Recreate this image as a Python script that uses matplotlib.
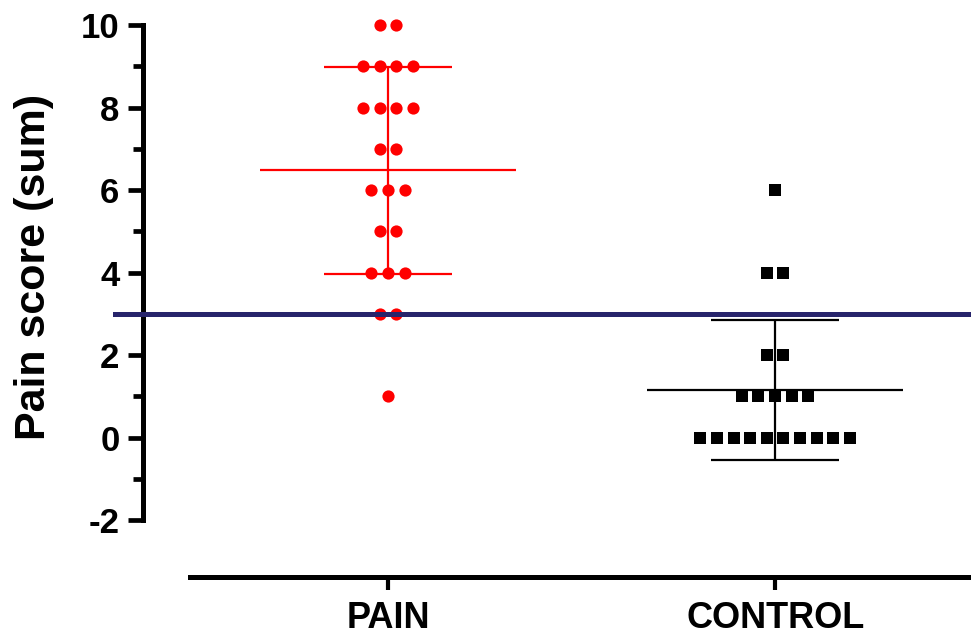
import numpy as np
import matplotlib.pyplot as plt
from matplotlib.ticker import FixedLocator

# Pain scores (value, count)
pain_values = [10, 9, 8, 7, 6, 5, 4, 3, 1]
pain_counts = [2, 4, 4, 2, 3, 2, 3, 2, 1]
control_values = [6, 4, 2, 1, 0]
control_counts = [1, 2, 2, 5, 10]
groups = ["PAIN", "CONTROL"]
cutoff = 3

plt.rcParams['font.family'] = ['Liberation Sans', 'DejaVu Sans']

fig = plt.figure(figsize=(9.71, 6.36), dpi=100)
ax = fig.add_axes([143 / 971, 59 / 636, 828 / 971, 552 / 636])


def swarm(values, counts, xpos, step=0.043):
    xs, ys = [], []
    for v, c in zip(values, counts):
        offs = (np.arange(c) - (c - 1) / 2) * step
        xs.extend(xpos + offs)
        ys.extend([v] * c)
    return np.array(xs), np.array(ys)


def mean_sd(ax, ys, xpos, color):
    m = ys.mean()
    sd = ys.std(ddof=1)
    ax.vlines(xpos, m - sd, m + sd, color=color, lw=1.6, zorder=2)
    ax.hlines(m, xpos - 0.33, xpos + 0.33, color=color, lw=1.6, zorder=2)
    ax.hlines([m - sd, m + sd], xpos - 0.165, xpos + 0.165, color=color, lw=1.6, zorder=2)


px, py = swarm(pain_values, pain_counts, 0)
cx, cy = swarm(control_values, control_counts, 1)

ax.plot(px, py, 'o', color='#ff0000', ms=8.8, mew=0, zorder=3, clip_on=False)
ax.plot(cx, cy, 's', color='black', ms=8.6, mew=0, zorder=3, clip_on=False)
mean_sd(ax, py, 0, '#ff0000')
mean_sd(ax, cy, 1, 'black')

# cutoff line
ax.plot([-0.705, 1.506], [cutoff, cutoff], color='#27246b', lw=3.6, zorder=4, clip_on=False)

ax.set_xlim(-0.633, 1.506)
ax.set_ylim(-3.38, 10)

for s in ['top', 'right']:
    ax.spines[s].set_visible(False)
ax.spines['left'].set_linewidth(3.6)
ax.spines['left'].set_bounds(-2, 10)
ax.spines['bottom'].set_linewidth(3.6)
ax.spines['bottom'].set_bounds(-0.512, 1.506)

ax.set_yticks(range(-2, 11, 2))
ax.yaxis.set_minor_locator(FixedLocator(range(-1, 10, 2)))
ax.tick_params(axis='y', which='major', length=11, width=3.4, labelsize=25, pad=6)
ax.tick_params(axis='y', which='minor', length=7, width=3.4)
ax.set_yticklabels([str(v) for v in range(-2, 11, 2)], fontweight='bold')

ax.set_xticks([0, 1])
ax.set_xticklabels(groups, fontweight='bold')
ax.tick_params(axis='x', length=9, width=3, labelsize=26, pad=8)

fig.text(0.035, 0.58, "Pain score (sum)", rotation=90, ha='center', va='center',
         fontsize=31, fontweight='bold')

fig.savefig("out.png", dpi=100)
